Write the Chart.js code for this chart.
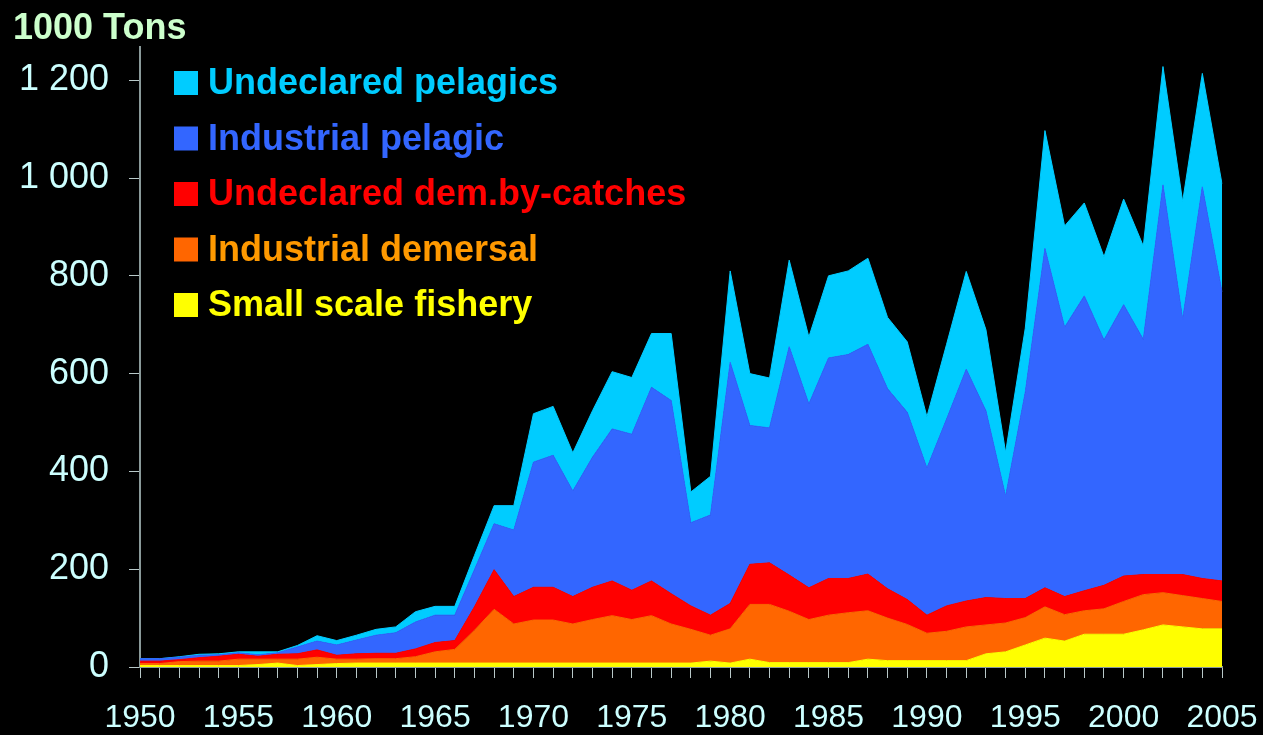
<!DOCTYPE html>
<html lang="en">
<head>
<meta charset="UTF-8">
<title>Catches 1950-2005</title>
<script src="https://cdn.jsdelivr.net/npm/chart.js"></script>
<style>
  html, body { margin: 0; padding: 0; background: #000; }
  canvas { display: block; }
</style>
</head>
<body>
<canvas id="catchChart" width="1263" height="735"></canvas>
<script>
// Data (1000 tons)
const years = [];
for (let y = 1950; y <= 2005; y++) years.push(String(y));

const smallScale = [3, 3, 3, 3, 3, 3, 5, 8, 3, 5, 7, 8, 8, 8, 8, 8, 8, 8, 8, 8,
  8, 8, 8, 8, 8, 8, 8, 8, 8, 12, 8, 16, 9, 9, 9, 9, 9, 16, 13, 13,
  13, 13, 13, 27, 31, 45, 59, 53, 67, 67, 67, 76, 86, 82, 78, 78];
const industrialDemersal = [4, 4, 8, 9, 9, 13, 11, 8, 13, 15, 9, 8, 9, 9, 13, 23, 28, 67, 110, 80,
  88, 88, 80, 89, 97, 89, 97, 80, 69, 53, 70, 112, 119, 105, 88, 97, 102, 99, 87, 74,
  56, 60, 69, 59, 59, 56, 64, 54, 48, 52, 67, 72, 66, 64, 62, 56];
const undeclaredDem = [5, 5, 4, 7, 10, 10, 6, 10, 11, 15, 8, 11, 11, 11, 16, 19, 18, 48, 81, 56,
  67, 67, 56, 66, 71, 60, 71, 62, 48, 41, 52, 82, 85, 74, 65, 75, 70, 75, 60, 51,
  37, 52, 53, 56, 50, 39, 39, 37, 41, 48, 52, 41, 37, 43, 41, 42];
const industrialPelagic = [5, 5, 5, 5, 3, 3, 3, 3, 14, 18, 21, 28, 37, 42, 55, 56, 52, 76, 94, 136,
  256, 270, 216, 266, 311, 319, 396, 395, 170, 205, 493, 284, 276, 467, 376, 451, 458, 470, 409, 383,
  301, 382, 474, 382, 209, 422, 694, 551, 603, 502, 555, 481, 797, 522, 801, 591];
const undeclaredPelagics = [0, 0, 1, 2, 2, 2, 6, 2, 3, 11, 9, 10, 12, 12, 21, 18, 18, 29, 37, 50,
  99, 100, 78, 95, 117, 116, 110, 137, 63, 79, 187, 106, 102, 177, 137, 168, 171, 176, 146, 144,
  105, 153, 200, 166, 90, 131, 241, 207, 190, 170, 216, 191, 242, 241, 232, 221];

const yTicks = [0, 200, 400, 600, 800, 1000, 1200];

const seriesNames = ['Small scale fishery', 'Industrial demersal', 'Undeclared dem.by-catches',
  'Industrial pelagic', 'Undeclared pelagics'];
const fillColors = ['#ffff00', '#ff6600', '#ff0000', '#3366ff', '#00ccff'];
const textColors = ['#ffff00', '#ff9900', '#ff0000', '#3366ff', '#00ccff'];
const seriesValues = [smallScale, industrialDemersal, undeclaredDem, industrialPelagic, undeclaredPelagics];

const FONT = '"Liberation Sans", Arial, Helvetica, sans-serif';

// unit label top-left + legend inside the plot
const overlayPlugin = {
  id: 'overlay',
  afterDraw(chart) {
    const ctx = chart.ctx;
    ctx.save();
    ctx.font = 'bold 36px ' + FONT;
    ctx.fillStyle = '#ccffcc';
    ctx.textBaseline = 'alphabetic';
    ctx.textAlign = 'left';
    ctx.fillText('1000 Tons', 13, 39);

    const ds = chart.data.datasets;
    for (let k = 0; k < ds.length; k++) {
      const d = ds[ds.length - 1 - k];
      const top = 71 + k * 55.5;
      ctx.fillStyle = d.backgroundColor;
      ctx.fillRect(174, top, 24, 24);
      ctx.fillStyle = d.legendText;
      ctx.fillText(d.label, 208, top + 23);
    }
    ctx.restore();
  }
};

new Chart(document.getElementById('catchChart'), {
  type: 'line',
  data: {
    labels: years,
    datasets: seriesNames.map((name, i) => ({
      label: name,
      data: seriesValues[i],
      backgroundColor: fillColors[i],
      borderColor: fillColors[i],
      legendText: textColors[i],
      borderWidth: 1,
      pointRadius: 0,
      tension: 0,
      fill: i === 0 ? 'origin' : '-1'
    }))
  },
  options: {
    responsive: false,
    animation: false,
    layout: { padding: { top: 47, right: 41, left: 0, bottom: 0 } },
    plugins: {
      legend: { display: false },
      tooltip: { enabled: false }
    },
    scales: {
      x: {
        offset: false,
        grid: { display: true, drawOnChartArea: false, drawTicks: true, tickLength: 11, color: '#b8c8c8' },
        border: { color: '#8a9a9a', width: 2 },
        ticks: {
          autoSkip: false,
          maxRotation: 0,
          padding: 21,
          color: '#ccffff',
          font: { family: FONT, size: 32 },
          callback: function (v) {
            const y = Number(this.getLabelForValue(v));
            return y % 5 === 0 ? String(y) : '';
          }
        },
        afterFit(scale) {
          scale.height = 68;
          scale.paddingLeft = 0;
          scale.paddingRight = 0;
        }
      },
      y: {
        stacked: true,
        min: 0,
        max: 1268,
        grid: { display: true, drawOnChartArea: false, drawTicks: true, tickLength: 11, color: '#b8c8c8' },
        border: { color: '#8a9a9a', width: 2 },
        ticks: {
          padding: 20,
          color: '#ccffff',
          font: { family: FONT, size: 36 },
          callback: v => v >= 1000 ? Math.floor(v / 1000) + ' ' + String(v % 1000).padStart(3, '0') : String(v)
        },
        afterBuildTicks(scale) {
          scale.ticks = yTicks.map(v => ({ value: v }));
        },
        afterFit(scale) {
          scale.width = 140;
          scale.paddingTop = 0;
          scale.paddingBottom = 0;
        }
      }
    }
  },
  plugins: [overlayPlugin]
});
</script>
</body>
</html>
